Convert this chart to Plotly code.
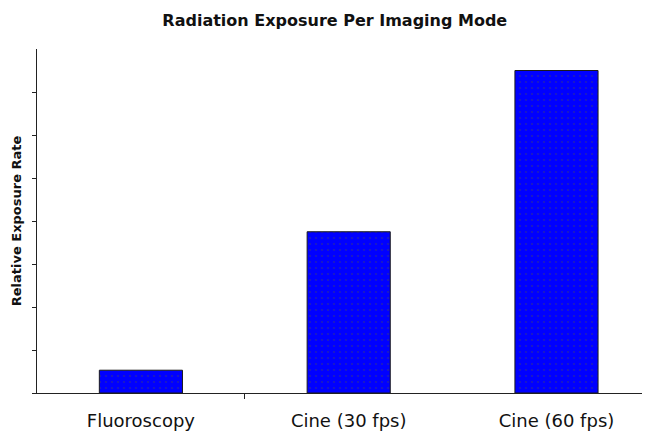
import plotly.graph_objects as go

modes = ['Fluoroscopy', 'Cine (30 fps)', 'Cine (60 fps)']
exposure = [0.53, 3.75, 7.5]
ytick_vals = [0, 1, 2, 3, 4, 5, 6, 7]

# page body has an 8px margin, so the figure is sized to fill the rest
W, H = 642, 429

fig = go.Figure()
fig.add_trace(go.Bar(
    x=list(range(len(modes))),
    y=exposure,
    width=0.4,
    marker=dict(
        color='#0000ff',
        line=dict(color='#1a1a1a', width=1),
        pattern=dict(shape='.', fgcolor='#3c3c7a', bgcolor='#0000ff',
                     size=6, solidity=0.1),
    ),
))

fig.update_layout(
    width=W, height=H,
    margin=dict(l=29, r=0, t=41, b=44),
    paper_bgcolor='white', plot_bgcolor='white',
    showlegend=False,
    title=dict(text='<b>Radiation Exposure Per Imaging Mode</b>',
               x=0.509, xanchor='center', y=1 - 12 / H, yanchor='middle',
               font=dict(family='DejaVu Sans', size=16, color='#111')),
    font=dict(family='DejaVu Sans', color='#111'),
)

fig.update_xaxes(
    range=[-0.5, 2.45],
    tickvals=list(range(len(modes))), ticktext=modes,
    ticks='outside', ticklen=11, tickcolor='rgba(0,0,0,0)',
    tickfont=dict(family='DejaVu Sans', size=18, color='#111'),
    showline=True, linecolor='#222', linewidth=1,
    showgrid=False, zeroline=False,
    minor=dict(tickvals=[0.5], ticks='outside', ticklen=5,
               tickcolor='#222', tickwidth=1),
)
fig.update_yaxes(
    range=[0, 8],
    tickvals=ytick_vals, showticklabels=False,
    ticks='outside', ticklen=4, tickcolor='#222', tickwidth=1,
    showline=True, linecolor='#222', linewidth=1,
    showgrid=False, zeroline=False,
    title=dict(text='<b>Relative Exposure Rate</b>', standoff=7,
               font=dict(family='DejaVu Sans', size=13, color='#111')),
)

fig.write_html('out.html')
